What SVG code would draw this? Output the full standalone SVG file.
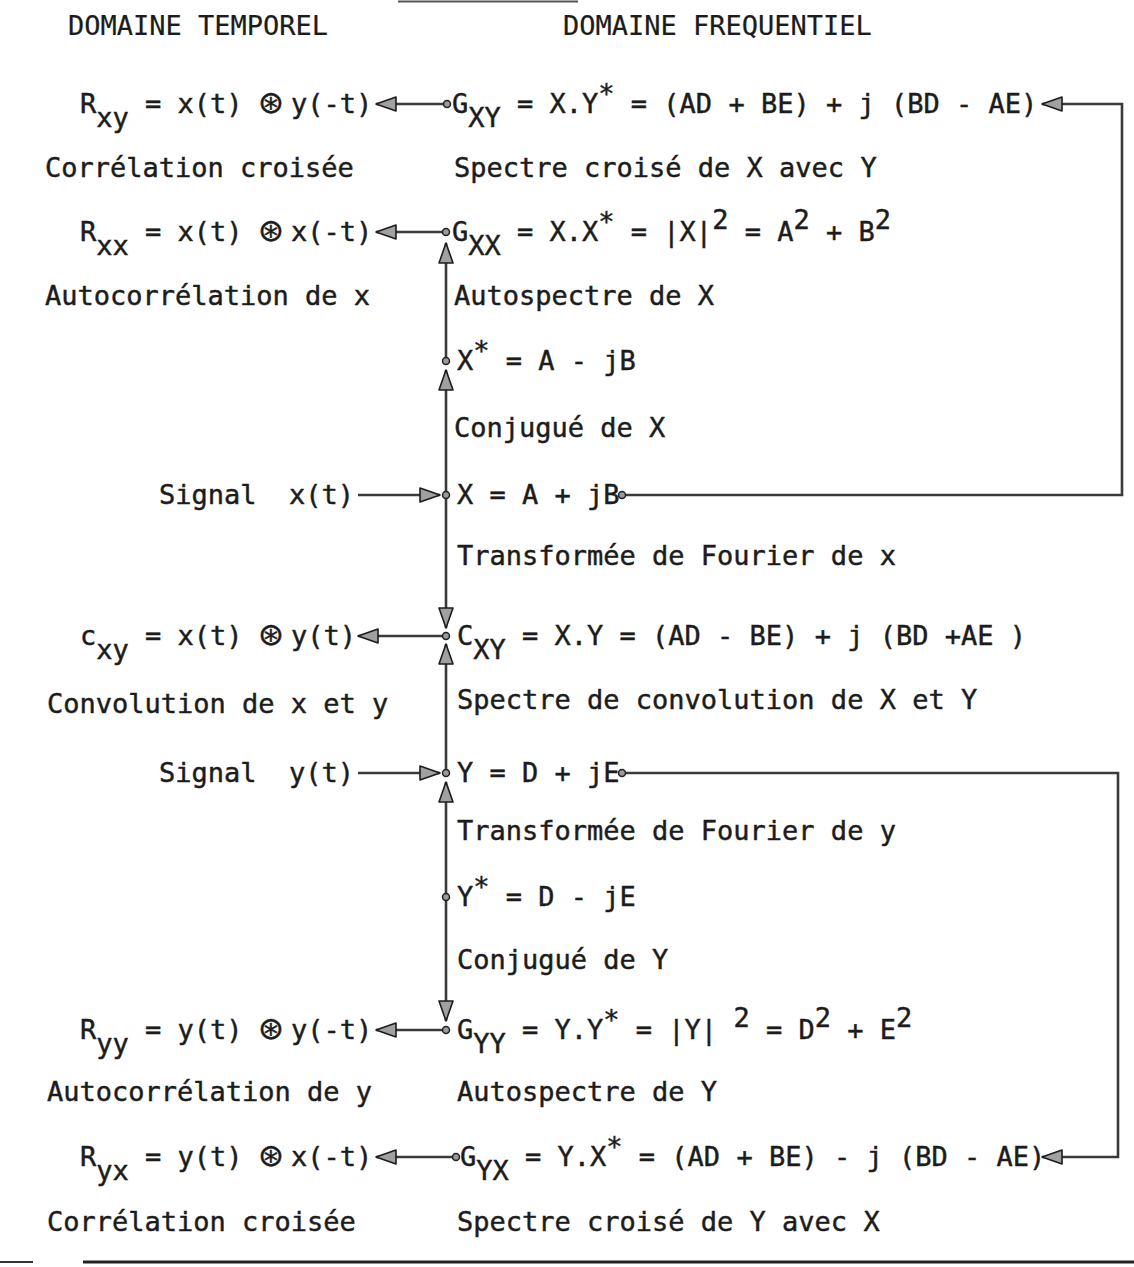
<svg xmlns="http://www.w3.org/2000/svg" width="1134" height="1267" viewBox="0 0 1134 1267">
<style>
text{font-family:"DejaVu Sans Mono","Liberation Mono",monospace;font-size:27px;fill:#1c1c1c;stroke:#1c1c1c;stroke-width:0.45;white-space:pre}
.hd{stroke-width:0.2}
.op{font-family:"DejaVu Sans",sans-serif;font-size:31px}
.ln{fill:none;stroke:#3a3a3a;stroke-width:2.6}
.dot{fill:#9a9a9a;stroke:#222;stroke-width:1.5}
</style>
<defs>
<marker id="ah" viewBox="0 0 22 16" refX="21" refY="8" markerWidth="22" markerHeight="16" markerUnits="userSpaceOnUse" orient="auto">
<path d="M1,1 L21,8 L1,15 z" fill="#a0a0a0" stroke="#1c1c1c" stroke-width="1.6" stroke-linejoin="round"/>
</marker>
</defs>
<rect width="1134" height="1267" fill="#fff"/>
<line x1="398" y1="1.5" x2="578" y2="1.5" stroke="#555" stroke-width="2"/>
<g id="headers">
<text class="hd" x="68" y="35">DOMAINE TEMPOREL</text>
<text class="hd" x="563" y="35">DOMAINE FREQUENTIEL</text>
</g>
<g id="n-rxy"><text x="80" y="113">R<tspan y="127">xy</tspan><tspan y="113"> = x(t) </tspan><tspan class="op" x="258">⊛</tspan><tspan x="291">y(-t)</tspan></text><text x="45" y="177">Corrélation croisée</text></g>
<g id="n-gxy"><text x="452" y="113">G<tspan y="127">XY</tspan><tspan y="113"> = X.Y</tspan><tspan y="103">*</tspan><tspan y="113"> = (AD + BE) + j (BD - AE)</tspan></text><text x="454" y="177">Spectre croisé de X avec Y</text></g>
<g id="n-rxx"><text x="80" y="241">R<tspan y="255">xx</tspan><tspan y="241"> = x(t) </tspan><tspan class="op" x="258">⊛</tspan><tspan x="291">x(-t)</tspan></text><text x="45" y="305">Autocorrélation de x</text></g>
<g id="n-gxx"><text x="452" y="241">G<tspan y="255">XX</tspan><tspan y="241"> = X.X</tspan><tspan y="231">*</tspan><tspan y="241"> = |X|</tspan><tspan y="229">2</tspan><tspan y="241"> = A</tspan><tspan y="229">2</tspan><tspan y="241"> + B</tspan><tspan y="229">2</tspan></text><text x="454" y="305">Autospectre de X</text></g>
<g id="n-xstar"><text x="457" y="370">X<tspan y="360">*</tspan><tspan y="370"> = A - jB</tspan></text><text x="454" y="437">Conjugué de X</text></g>
<g id="n-sigx"><text x="159" y="504">Signal  x(t)</text></g>
<g id="n-x"><text x="457" y="504">X = A + jB</text><text x="457" y="565">Transformée de Fourier de x</text></g>
<g id="n-cxy"><text x="80" y="645">c<tspan y="659">xy</tspan><tspan y="645"> = x(t) </tspan><tspan class="op" x="258">⊛</tspan><tspan x="291">y(t)</tspan></text><text x="47" y="713">Convolution de x et y</text></g>
<g id="n-Cxy"><text x="457" y="645">C<tspan y="659">XY</tspan><tspan y="645"> = X.Y = (AD - BE) + j (BD +AE )</tspan></text><text x="457" y="709">Spectre de convolution de X et Y</text></g>
<g id="n-sigy"><text x="159" y="782">Signal  y(t)</text></g>
<g id="n-y"><text x="457" y="782">Y = D + jE</text><text x="457" y="840">Transformée de Fourier de y</text></g>
<g id="n-ystar"><text x="457" y="906">Y<tspan y="896">*</tspan><tspan y="906"> = D - jE</tspan></text><text x="457" y="969">Conjugué de Y</text></g>
<g id="n-ryy"><text x="80" y="1039">R<tspan y="1053">yy</tspan><tspan y="1039"> = y(t) </tspan><tspan class="op" x="258">⊛</tspan><tspan x="291">y(-t)</tspan></text><text x="47" y="1101">Autocorrélation de y</text></g>
<g id="n-gyy"><text x="457" y="1039">G<tspan y="1053">YY</tspan><tspan y="1039"> = Y.Y</tspan><tspan y="1029">*</tspan><tspan y="1039"> = |Y| </tspan><tspan y="1027">2</tspan><tspan y="1039"> = D</tspan><tspan y="1027">2</tspan><tspan y="1039"> + E</tspan><tspan y="1027">2</tspan></text><text x="457" y="1101">Autospectre de Y</text></g>
<g id="n-ryx"><text x="80" y="1166">R<tspan y="1180">yx</tspan><tspan y="1166"> = y(t) </tspan><tspan class="op" x="258">⊛</tspan><tspan x="291">x(-t)</tspan></text><text x="47" y="1231">Corrélation croisée</text></g>
<g id="n-gyx"><text x="460" y="1166">G<tspan y="1180">YX</tspan><tspan y="1166"> = Y.X</tspan><tspan y="1156">*</tspan><tspan y="1166"> = (AD + BE) - j (BD - AE)</tspan></text><text x="457" y="1231">Spectre croisé de Y avec X</text></g>
<g id="connectors">
<line class="ln" x1="447" y1="104" x2="376" y2="104" marker-end="url(#ah)"/>
<line class="ln" x1="446" y1="232" x2="376" y2="232" marker-end="url(#ah)"/>
<line class="ln" x1="446" y1="636" x2="358" y2="636" marker-end="url(#ah)"/>
<line class="ln" x1="446" y1="1030" x2="376" y2="1030" marker-end="url(#ah)"/>
<line class="ln" x1="456" y1="1157" x2="376" y2="1157" marker-end="url(#ah)"/>
<line class="ln" x1="358" y1="495" x2="440" y2="495" marker-end="url(#ah)"/>
<line class="ln" x1="358" y1="773" x2="440" y2="773" marker-end="url(#ah)"/>
<line class="ln" x1="446" y1="361" x2="446" y2="243" marker-end="url(#ah)"/>
<line class="ln" x1="446" y1="495" x2="446" y2="370" marker-end="url(#ah)"/>
<line class="ln" x1="446" y1="495" x2="446" y2="628" marker-end="url(#ah)"/>
<line class="ln" x1="446" y1="773" x2="446" y2="644" marker-end="url(#ah)"/>
<line class="ln" x1="446" y1="897" x2="446" y2="782" marker-end="url(#ah)"/>
<line class="ln" x1="446" y1="897" x2="446" y2="1021" marker-end="url(#ah)"/>
<polyline class="ln" points="622,495 1122,495 1122,104 1042,104" marker-end="url(#ah)"/>
<polyline class="ln" points="622,773 1118,773 1118,1157 1042,1157" marker-end="url(#ah)"/>
<circle class="dot" cx="447" cy="104" r="3.5"/>
<circle class="dot" cx="446" cy="232" r="3.5"/>
<circle class="dot" cx="446" cy="361" r="3.5"/>
<circle class="dot" cx="446" cy="495" r="3.5"/>
<circle class="dot" cx="446" cy="636" r="3.5"/>
<circle class="dot" cx="446" cy="773" r="3.5"/>
<circle class="dot" cx="446" cy="897" r="3.5"/>
<circle class="dot" cx="446" cy="1030" r="3.5"/>
<circle class="dot" cx="456" cy="1157" r="3.5"/>
<circle class="dot" cx="622" cy="495" r="3.5"/>
<circle class="dot" cx="622" cy="773" r="3.5"/>
</g>
<line x1="0" y1="1262" x2="33" y2="1262" stroke="#333" stroke-width="2"/>
<line x1="83" y1="1262" x2="1134" y2="1262" stroke="#222" stroke-width="3"/>
</svg>
